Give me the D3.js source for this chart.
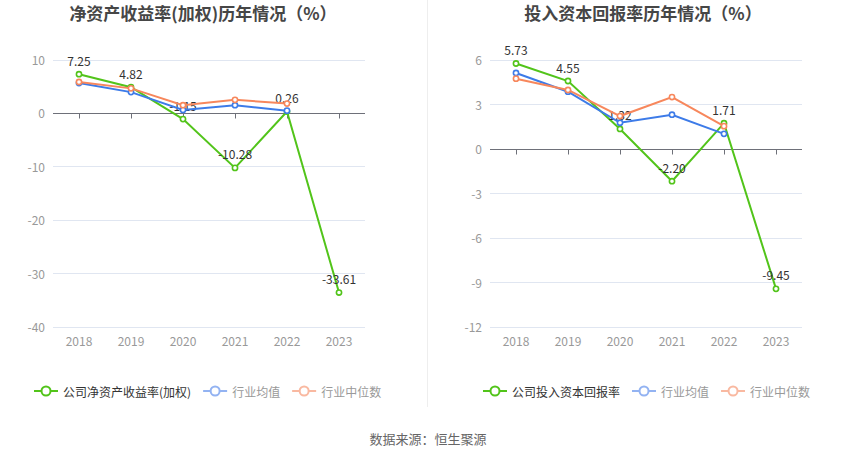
<!DOCTYPE html>
<html>
<head>
<meta charset="utf-8">
<script src="https://cdn.jsdelivr.net/npm/d3@7"></script>
<style>
  body { margin: 0; background: #fff; }
  svg { font-family: "Noto Sans CJK SC", "Noto Sans", sans-serif; }
</style>
</head>
<body>
<div id="host"></div>
<script>
// Data
const years = ["2018", "2019", "2020", "2021", "2022", "2023"];

const roeCompany = [7.25, 4.82, -1.15, -10.28, 0.26, -33.61];
const roeMean = [5.6, 3.9, 0.57, 1.45, 0.43, null];
const roeMedian = [5.8, 4.6, 1.45, 2.45, 1.75, null];
const roeTicks = [10, 0, -10, -20, -30, -40];

const roicCompany = [5.73, 4.55, 1.32, -2.20, 1.71, -9.45];
const roicMean = [5.09, 3.83, 1.74, 2.28, 0.99, null];
const roicMedian = [4.71, 3.95, 2.19, 3.47, 1.51, null];
const roicTicks = [6, 3, 0, -3, -6, -9, -12];

const GREEN = "#52c41a";
const BLUE = "#3d7be8";
const ORANGE = "#f7875c";

const width = 850;
const height = 459;

const svg = d3.select("#host").append("svg")
    .attr("width", width)
    .attr("height", height);

// divider between the two panels
svg.append("line")
    .attr("x1", 427.5).attr("x2", 427.5)
    .attr("y1", 0).attr("y2", 407)
    .attr("stroke", "#eeeeee");

function drawPanel(opts) {
    const g = svg.append("g");
    const x = d3.scaleBand().domain(years).range([opts.x0, opts.x1]);
    const y = d3.scaleLinear()
        .domain([d3.min(opts.ticks), d3.max(opts.ticks)])
        .range([326.7, 59.5]);
    const cx = d => x(d) + x.bandwidth() / 2;

    // title
    g.append("text")
        .attr("x", opts.titleX).attr("y", 12.5)
        .attr("text-anchor", "middle")
        .attr("dominant-baseline", "central")
        .attr("font-size", 17).attr("font-weight", "bold")
        .attr("fill", "#464646")
        .text(opts.title);

    // grid lines
    g.selectAll(".grid").data(opts.ticks.filter(t => t !== 0)).join("line")
        .attr("x1", opts.x0).attr("x2", opts.x1)
        .attr("y1", d => Math.round(y(d)) + 0.5).attr("y2", d => Math.round(y(d)) + 0.5)
        .attr("stroke", "#e0e6f1");

    // y labels
    g.selectAll(".ylab").data(opts.ticks).join("text")
        .attr("x", opts.x0 - 8).attr("y", d => y(d))
        .attr("text-anchor", "end")
        .attr("dominant-baseline", "central")
        .attr("font-size", 12).attr("fill", "#999")
        .text(d => d);

    // zero axis with ticks
    const zy = Math.round(y(0)) + 0.5;
    g.append("line")
        .attr("x1", opts.x0).attr("x2", opts.x1)
        .attr("y1", zy).attr("y2", zy)
        .attr("stroke", "#6e7079");
    g.selectAll(".tick").data(years).join("line")
        .attr("x1", d => Math.round(cx(d)) + 0.5).attr("x2", d => Math.round(cx(d)) + 0.5)
        .attr("y1", zy).attr("y2", zy + 5)
        .attr("stroke", "#6e7079");

    // x labels
    g.selectAll(".xlab").data(years).join("text")
        .attr("x", cx).attr("y", 340)
        .attr("text-anchor", "middle")
        .attr("dominant-baseline", "central")
        .attr("font-size", 12).attr("fill", "#999")
        .text(d => d);

    const line = d3.line()
        .defined(d => d.v !== null)
        .x(d => cx(d.year))
        .y(d => y(d.v));

    function series(values, color, labels) {
        const pts = years.map((yr, i) => ({ year: yr, v: values[i] }));
        const s = g.append("g");
        s.append("path")
            .datum(pts)
            .attr("d", line)
            .attr("fill", "none")
            .attr("stroke", color)
            .attr("stroke-width", 2);
        s.selectAll("circle").data(pts.filter(d => d.v !== null)).join("circle")
            .attr("cx", d => cx(d.year)).attr("cy", d => y(d.v))
            .attr("r", 2.6)
            .attr("fill", "#fff")
            .attr("stroke", color)
            .attr("stroke-width", 1.6);
        if (labels) {
            s.selectAll("text").data(pts.filter(d => d.v !== null)).join("text")
                .attr("x", d => cx(d.year)).attr("y", d => y(d.v) - 14)
                .attr("text-anchor", "middle")
                .attr("dominant-baseline", "central")
                .attr("font-size", 12).attr("fill", "#333")
                .text(d => d.v.toFixed(2));
        }
    }

    series(opts.company, GREEN, true);
    series(opts.mean, BLUE, false);
    series(opts.median, ORANGE, false);

    // legend
    const items = [
        { name: opts.companyName, color: GREEN, text: "#333" },
        { name: "行业均值", color: "#93b3f2", text: "#999" },
        { name: "行业中位数", color: "#f9b9a1", text: "#999" }
    ];
    let lx = opts.legendX;
    const ly = 391;
    items.forEach(it => {
        const lg = g.append("g");
        lg.append("line")
            .attr("x1", lx).attr("x2", lx + 24)
            .attr("y1", ly).attr("y2", ly)
            .attr("stroke", it.color).attr("stroke-width", 2);
        lg.append("circle")
            .attr("cx", lx + 12).attr("cy", ly).attr("r", 4.5)
            .attr("fill", "#fff").attr("stroke", it.color).attr("stroke-width", 2);
        const t = lg.append("text")
            .attr("x", lx + 29).attr("y", ly)
            .attr("dominant-baseline", "central")
            .attr("font-size", 12).attr("fill", it.text)
            .text(it.name);
        lx += 29 + t.node().getComputedTextLength() + 12;
    });
}

drawPanel({
    x0: 53, x1: 365, titleX: 203,
    title: "净资产收益率(加权)历年情况（%）",
    ticks: roeTicks,
    company: roeCompany, mean: roeMean, median: roeMedian,
    companyName: "公司净资产收益率(加权)",
    legendX: 34
});

drawPanel({
    x0: 490, x1: 802, titleX: 643,
    title: "投入资本回报率历年情况（%）",
    ticks: roicTicks,
    company: roicCompany, mean: roicMean, median: roicMedian,
    companyName: "公司投入资本回报率",
    legendX: 483
});

// source note
svg.append("text")
    .attr("x", 428).attr("y", 438)
    .attr("text-anchor", "middle")
    .attr("dominant-baseline", "central")
    .attr("font-size", 13).attr("fill", "#666")
    .text("数据来源：恒生聚源");
</script>
</body>
</html>
